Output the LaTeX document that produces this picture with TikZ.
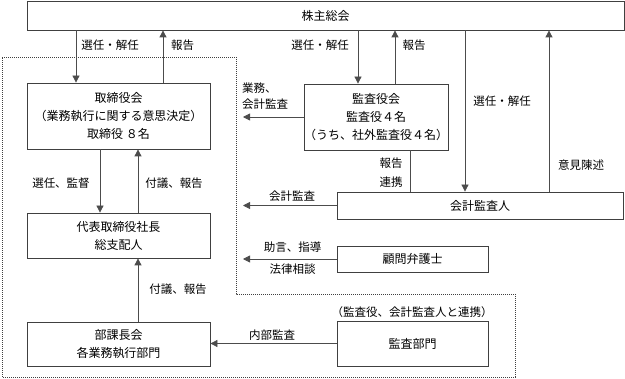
\documentclass[tikz,border=0pt]{standalone}
\usepackage{fontspec}
\setmainfont{Noto Sans CJK JP}
\usetikzlibrary{arrows.meta}
\tikzset{
  box/.style={draw=black!75, line width=0.8pt, inner sep=0pt, align=center, font=\fontsize{12}{18}\selectfont},
  lbl/.style={inner sep=0pt, align=center, font=\fontsize{11.5}{17}\selectfont},
  arr/.style={draw=black!70, line width=0.8pt, -{Triangle[length=7pt,width=7pt]}},
  ln/.style={draw=black!70, line width=0.8pt},
  dots/.style={draw=black!75, line width=0.6pt, dash pattern=on 1pt off 1pt}
}
\begin{document}
\begin{tikzpicture}[x=1pt,y=-1pt]
\useasboundingbox (0,0) rectangle (625,379);
% dotted region
\draw[dots] (2,57) -- (236,57) -- (236,294) -- (515,294) -- (515,377) -- (2,377) -- cycle;
% boxes
\node[box, minimum width=597pt, minimum height=29pt] (top) at (325.5,15.5) {株主総会};
\node[box, minimum width=183pt, minimum height=66pt] (tori) at (118.5,116) {取締役会\\（業務執行に関する意思決定）\\取締役 ８名};
\node[box, minimum width=183pt, minimum height=45pt] (daihyo) at (118.5,235.5) {代表取締役社長\\総支配人};
\node[box, minimum width=183pt, minimum height=44pt] (buka) at (118.5,344) {部課長会\\各業務執行部門};
\node[box, minimum width=144pt, minimum height=66pt] (kansa) at (376,117) {監査役会\\監査役４名\\（うち、社外監査役４名）};
\node[box, minimum width=286pt, minimum height=27pt] (kaikei) at (480,205.5) {会計監査人};
\node[box, minimum width=151pt, minimum height=26pt] (komon) at (412.5,259) {顧問弁護士};
\node[box, minimum width=151pt, minimum height=45pt] (kansabu) at (412.5,343.5) {監査部門};
% free ends
\coordinate (e1) at (243,117);
\coordinate (e2) at (243,205.5);
\coordinate (e3) at (243,259);
% connectors
\draw[arr] (76,0 |- top.south) -- (76,0 |- tori.north);
\draw[arr] (163,0 |- tori.north) -- (163,0 |- top.south);
\draw[arr] (358,0 |- top.south) -- (358,0 |- kansa.north);
\draw[arr] (395,0 |- kansa.north) -- (395,0 |- top.south);
\draw[arr] (465,0 |- top.south) -- (465,0 |- kaikei.north);
\draw[arr] (549,0 |- kaikei.north) -- (549,0 |- top.south);
\draw[arr] (kansa.west) -- (e1);
\draw[ln] (410,0 |- kansa.south) -- (410,0 |- kaikei.north);
\draw[arr] (kaikei.west) -- (e2);
\draw[arr] (komon.west) -- (e3);
\draw[arr] (kansabu.west) -- (kansabu.west -| buka.east);
\draw[arr] (100,0 |- tori.south) -- (100,0 |- daihyo.north);
\draw[arr] (138,0 |- daihyo.north) -- (138,0 |- tori.south);
\draw[arr] (138,0 |- buka.north) -- (138,0 |- daihyo.south);
% labels
\node[lbl] (l1) at (110,45) {選任・解任};
\node[lbl] (l2) at (182.5,45) {報告};
\node[lbl] (l3) at (320,45) {選任・解任};
\node[lbl] (l4) at (414,45) {報告};
\node[lbl] (l5) at (502,101) {選任・解任};
\node[lbl] (l6) at (581,165) {意見陳述};
\node[lbl, anchor=west] (l7) at (242,88) {業務、};
\node[lbl, anchor=west] (l8) at (242,104) {会計監査};
\node[lbl] (l9) at (391,163) {報告};
\node[lbl] (l10) at (391,182) {連携};
\node[lbl] (l11) at (292,196) {会計監査};
\node[lbl] (l12) at (292.5,247) {助言、指導};
\node[lbl] (l13) at (292.5,269) {法律相談};
\node[lbl] (l14) at (272,335) {内部監査};
\node[lbl] (l15) at (412,312) {（監査役、会計監査人と連携）};
\node[lbl] (l16) at (61,183) {選任、監督};
\node[lbl] (l17) at (174,183) {付議、報告};
\node[lbl] (l18) at (178,289) {付議、報告};
\end{tikzpicture}
\end{document}
